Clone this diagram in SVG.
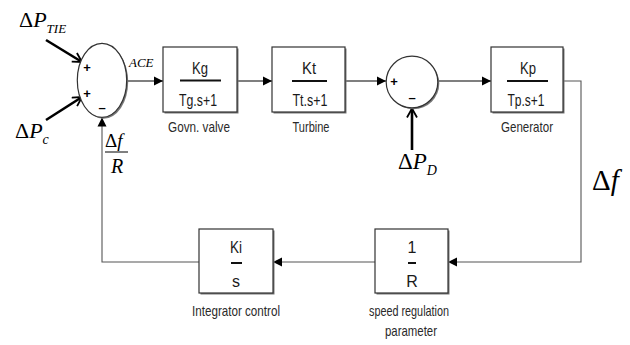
<svg xmlns="http://www.w3.org/2000/svg" width="630" height="345" viewBox="0 0 630 345">
<style>
.box{fill:#fff;stroke:#333;stroke-width:1.2}
.shd{fill:#777}
.fr{stroke:#111;stroke-width:2}
.bt{font-family:"Liberation Sans",Arial,sans-serif;font-size:16px;fill:#1a1a1a;text-anchor:middle}
.lb{font-family:"Liberation Sans",Arial,sans-serif;font-size:15px;fill:#2a2a2a;text-anchor:middle}
.m{font-family:"Liberation Serif","Times New Roman",serif;fill:#000}
.sg{font-family:"Liberation Sans",Arial,sans-serif;font-size:13px;font-weight:bold;fill:#000;text-anchor:middle}
.ln{fill:none;stroke:#000;stroke-width:1.1}
.fb{fill:none;stroke:#555;stroke-width:1.1}
.th{fill:none;stroke:#000;stroke-width:2.6}
</style>
<defs>
<marker id="ah" markerUnits="userSpaceOnUse" markerWidth="10" markerHeight="10" refX="9" refY="5" orient="auto">
<path d="M0,0.5 L9,5 L0,9.5 z" fill="#000"/>
</marker>
<marker id="va" markerUnits="userSpaceOnUse" markerWidth="12" markerHeight="12" refX="10" refY="6" orient="auto">
<path d="M1,1 L10,6 L1,11" fill="none" stroke="#000" stroke-width="1.8"/>
</marker>
</defs>

<g id="connectors">
<path class="ln" d="M127,81 H163" marker-end="url(#ah)"/>
<path class="ln" d="M237,81 H272" marker-end="url(#ah)"/>
<path class="ln" d="M345,81 H386" marker-end="url(#ah)"/>
<path class="ln" d="M438,81 H491" marker-end="url(#ah)"/>
<path class="fb" d="M563,81 H581 V262 H448" marker-end="url(#ah)"/>
<path class="fb" d="M375,262 H273" marker-end="url(#ah)"/>
<path class="fb" d="M199,262 H102 V117.5" marker-end="url(#ah)"/>
<path class="th" d="M46,40 L82,62" marker-end="url(#va)"/>
<path class="th" d="M46,120 L82,97" marker-end="url(#va)"/>
<path class="th" d="M412,150 L412,108.5" marker-end="url(#va)"/>
</g>

<g id="sum1">
<ellipse cx="103.5" cy="81.8" rx="24.7" ry="37" class="shd"/>
<ellipse cx="102" cy="80.3" rx="24.7" ry="37" class="box"/>
<text x="87" y="72" class="sg">+</text>
<text x="87" y="98" class="sg">+</text>
<text x="102" y="112" class="sg">–</text>
</g>

<g id="kg">
<rect x="164.5" y="48.5" width="74" height="65" class="shd"/>
<rect x="163" y="47" width="74" height="65" class="box"/>
<text x="200" y="74" class="bt" textLength="16" lengthAdjust="spacingAndGlyphs">Kg</text>
<line x1="180" y1="80.5" x2="221" y2="80.5" class="fr"/>
<text x="198" y="106" class="bt" textLength="38" lengthAdjust="spacingAndGlyphs">Tg.s+1</text>
<text x="199" y="132" class="lb" textLength="62" lengthAdjust="spacingAndGlyphs">Govn. valve</text>
</g>

<g id="kt">
<rect x="273.5" y="48.5" width="73" height="65" class="shd"/>
<rect x="272" y="47" width="73" height="65" class="box"/>
<text x="309" y="74" class="bt" textLength="14" lengthAdjust="spacingAndGlyphs">Kt</text>
<line x1="292" y1="81" x2="327" y2="81" class="fr"/>
<text x="310" y="106" class="bt" textLength="35" lengthAdjust="spacingAndGlyphs">Tt.s+1</text>
<text x="311" y="132" class="lb" textLength="37" lengthAdjust="spacingAndGlyphs">Turbine</text>
</g>

<g id="sum2">
<circle cx="413.5" cy="83.5" r="25.8" class="shd"/>
<circle cx="412" cy="82" r="25.8" class="box"/>
<text x="394" y="86" class="sg">+</text>
<text x="412" y="102" class="sg">–</text>
</g>

<g id="kp">
<rect x="492.5" y="48.5" width="72" height="65" class="shd"/>
<rect x="491" y="47" width="72" height="65" class="box"/>
<text x="528" y="74" class="bt" textLength="16" lengthAdjust="spacingAndGlyphs">Kp</text>
<line x1="507" y1="81" x2="548" y2="81" class="fr"/>
<text x="526" y="106" class="bt" textLength="37" lengthAdjust="spacingAndGlyphs">Tp.s+1</text>
<text x="527" y="132" class="lb" textLength="52" lengthAdjust="spacingAndGlyphs">Generator</text>
</g>

<g id="ki">
<rect x="200.5" y="230.5" width="74" height="64" class="shd"/>
<rect x="199" y="229" width="74" height="64" class="box"/>
<text x="236" y="253" class="bt" textLength="12" lengthAdjust="spacingAndGlyphs">Ki</text>
<line x1="231" y1="263" x2="242" y2="263" class="fr"/>
<text x="236" y="287" class="bt">s</text>
<text x="236" y="316" class="lb" textLength="88" lengthAdjust="spacingAndGlyphs">Integrator control</text>
</g>

<g id="invR">
<rect x="376.5" y="230.5" width="73" height="64" class="shd"/>
<rect x="375" y="229" width="73" height="64" class="box"/>
<text x="412" y="253" class="bt">1</text>
<line x1="408" y1="263" x2="416" y2="263" class="fr"/>
<text x="412" y="287" class="bt">R</text>
<text x="409" y="316" class="lb" textLength="80" lengthAdjust="spacingAndGlyphs">speed regulation</text>
<text x="411" y="336" class="lb" textLength="52" lengthAdjust="spacingAndGlyphs">parameter</text>
</g>

<g id="labels">
<text x="19" y="27" class="m" font-size="22">Δ<tspan font-style="italic">P</tspan><tspan font-style="italic" font-size="13" dy="6">TIE</tspan></text>
<text x="15" y="138" class="m" font-size="22">Δ<tspan font-style="italic">P</tspan><tspan font-style="italic" font-size="14" dy="6">c</tspan></text>
<text x="398" y="169" class="m" font-size="23">Δ<tspan font-style="italic">P</tspan><tspan font-style="italic" font-size="14" dy="6">D</tspan></text>
<text x="129" y="67" class="m" font-size="13" font-style="italic">ACE</text>
<text x="105" y="147" class="m" font-size="19">Δ<tspan font-style="italic">f</tspan></text>
<line x1="105" y1="152" x2="128" y2="152" stroke="#000" stroke-width="1"/>
<text x="111" y="173" class="m" font-size="20" font-style="italic">R</text>
<text x="592" y="190" class="m" font-size="29">Δ<tspan font-style="italic">f</tspan></text>
</g>
</svg>
